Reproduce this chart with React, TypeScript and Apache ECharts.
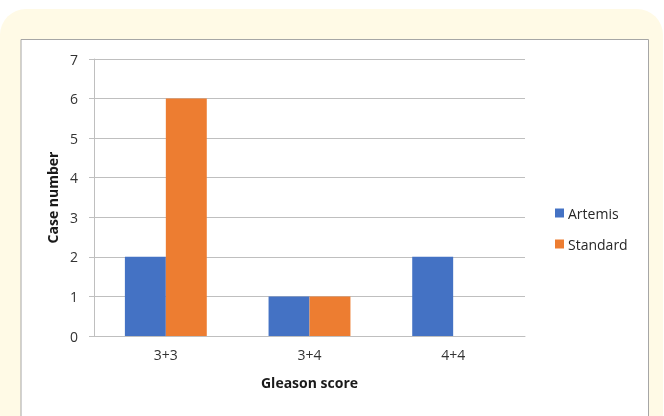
import React, { useEffect, useRef } from "react";
import * as echarts from "echarts";

const categories = ["3+3", "3+4", "4+4"];
const artemis = [2, 1, 2];
const standard = [6, 1, 0];
const seriesNames = ["Artemis", "Standard"];

export default function App() {
  const ref = useRef<HTMLDivElement>(null);
  useEffect(() => {
    document.body.style.margin = "0";
    const chart = echarts.init(ref.current!, null, { renderer: "svg" });
    const font = "'Open Sans', 'Noto Sans', sans-serif";
    chart.setOption({
      animation: false,
      textStyle: { fontFamily: font },
      graphic: [
        {
          type: "rect",
          z: -10,
          silent: true,
          shape: { x: 0, y: 9, width: 663, height: 430, r: 26 },
          style: { fill: "#FFFAE6" },
        },
        {
          type: "rect",
          z: -9,
          silent: true,
          shape: { x: 21, y: 39.5, width: 627.5, height: 400 },
          style: { fill: "#FFFFFF", stroke: "#A6A6A6", lineWidth: 1 },
        },
      ],
      grid: { left: 94, right: 139, top: 59, bottom: 80 },
      legend: {
        orient: "vertical",
        left: 550,
        top: 201,
        itemWidth: 9,
        itemHeight: 9,
        itemGap: 17,
        icon: "rect",
        textStyle: { fontSize: 14, color: "#262626", fontFamily: font, padding: [0, 0, 0, -1] },
        data: seriesNames,
      },
      xAxis: {
        type: "category",
        data: categories,
        name: "Gleason score",
        nameLocation: "middle",
        nameGap: 39,
        nameTextStyle: { fontWeight: "bold", fontSize: 14, color: "#1a1a1a", fontFamily: font },
        axisLine: { lineStyle: { color: "#BFBFBF" } },
        axisTick: { show: false },
        axisLabel: { fontSize: 14, color: "#333", margin: 11 },
      },
      yAxis: {
        type: "value",
        min: 0,
        max: 7,
        interval: 1,
        name: "Case number",
        nameLocation: "middle",
        nameGap: 31,
        nameTextStyle: { fontWeight: "bold", fontSize: 14, color: "#1a1a1a", fontFamily: font },
        axisLine: { show: true, lineStyle: { color: "#BFBFBF" } },
        axisTick: { show: true, length: 5, lineStyle: { color: "#BFBFBF" } },
        axisLabel: { fontSize: 14, color: "#333", margin: 16 },
        splitLine: { lineStyle: { color: "#BFBFBF" } },
      },
      series: [
        {
          name: seriesNames[0],
          type: "bar",
          data: artemis,
          barGap: "0%",
          barCategoryGap: "43%",
          itemStyle: { color: "#4472C4" },
        },
        {
          name: seriesNames[1],
          type: "bar",
          data: standard,
          barGap: "0%",
          barCategoryGap: "43%",
          itemStyle: { color: "#ED7D31" },
        },
      ],
    });
    return () => chart.dispose();
  }, []);
  return (
    <div
      ref={ref}
      style={{ position: "fixed", left: 0, top: 0, width: 664, height: 416 }}
    />
  );
}
